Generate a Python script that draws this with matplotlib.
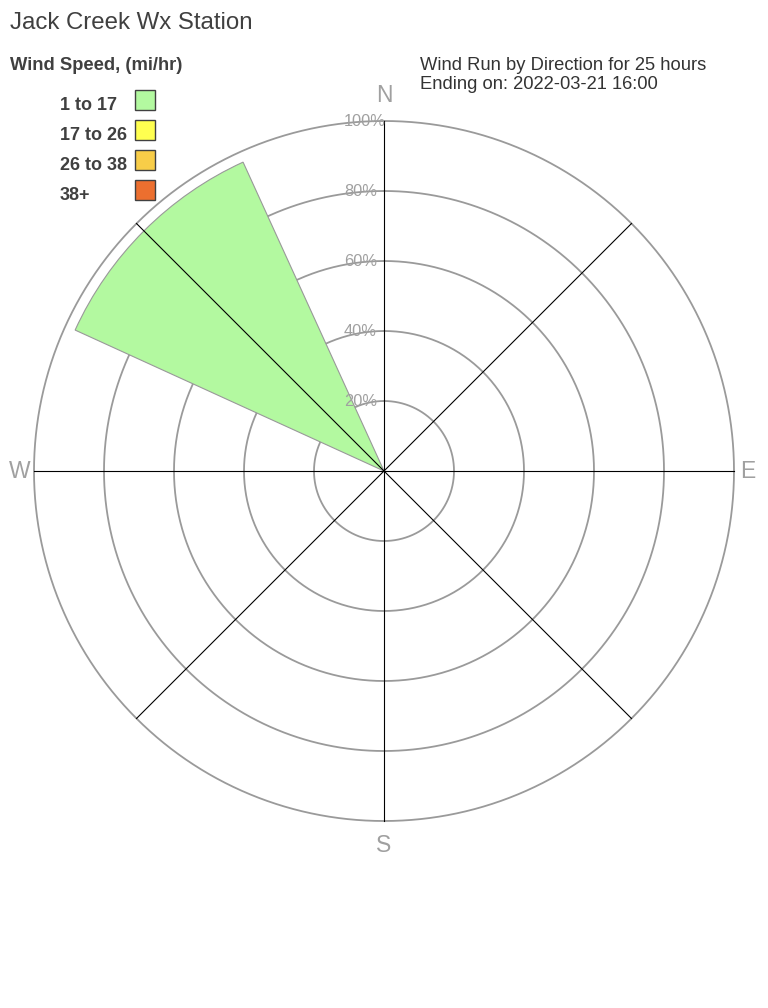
import numpy as np
import matplotlib
matplotlib.use("Agg")
import matplotlib.pyplot as plt

plt.rcParams['font.family'] = ['Liberation Sans', 'DejaVu Sans']

# wind rose data: 8 sectors, percent of wind run per speed class
directions = ["N", "NE", "E", "SE", "S", "SW", "W", "NW"]
dir_angles = [0, 45, 90, 135, 180, 225, 270, 315]
speed_classes = ["1 to 17", "17 to 26", "26 to 38", "38+"]
speed_colors = ["#b3f9a0", "#ffff50", "#f8cd48", "#ec6f2f"]
pct_1_17 = [0, 0, 0, 0, 0, 0, 0, 97]
pct_17_26 = [0, 0, 0, 0, 0, 0, 0, 0]
pct_26_38 = [0, 0, 0, 0, 0, 0, 0, 0]
pct_38p = [0, 0, 0, 0, 0, 0, 0, 0]
ring_ticks = [20, 40, 60, 80, 100]
compass = ["N", "E", "S", "W"]

W, H = 768, 1008
fig = plt.figure(figsize=(W / 100, H / 100), dpi=100)
fig.patch.set_facecolor("white")

cx, cy, R = 384, 471, 350
ax = fig.add_axes([(cx - R) / W, (H - cy - R) / H, 2 * R / W, 2 * R / H],
                  projection="polar")
ax.set_theta_zero_location("N")
ax.set_theta_direction(-1)
ax.set_ylim(0, 100)
ax.set_axis_off()

# rings
th = np.linspace(0, 2 * np.pi, 721)
for r in ring_ticks:
    ax.plot(th, np.full_like(th, r), color="#9a9a9a", lw=1.3, zorder=1,
            clip_on=False)

# stacked wedges
theta = np.deg2rad(dir_angles)
width = np.deg2rad(45) * 0.91
bottom = np.zeros(len(directions))
for vals, col in zip([pct_1_17, pct_17_26, pct_26_38, pct_38p], speed_colors):
    vals = np.array(vals, dtype=float)
    mask = vals > 0
    if mask.any():
        ax.bar(theta[mask], vals[mask], width=width, bottom=bottom[mask],
               color=col, edgecolor="#999999", linewidth=0.8, zorder=2)
    bottom += vals

# spokes
for a in dir_angles:
    ax.plot([np.deg2rad(a)] * 2, [0, 100], color="black", lw=0.8, zorder=3,
            clip_on=False)

# ring labels
for r in ring_ticks:
    ax.annotate(f"{r}%", xy=(0, r), xytext=(-40, 0), textcoords="offset pixels",
                ha="left", va="center", fontsize=11.8, color="#a0a0a0", zorder=4,
                annotation_clip=False)

# compass labels, pushed outside the outer ring
comp_ang = {"N": 0, "E": 90, "S": 180, "W": 270}
comp_off = {"N": (0, 25), "E": (14, 0), "S": (0, -25), "W": (-14, 0)}
for c in compass:
    ax.annotate(c, xy=(np.deg2rad(comp_ang[c]), 100),
                xytext=comp_off[c], textcoords="offset pixels",
                ha="center", va="center", fontsize=16.5, color="#a0a0a0",
                annotation_clip=False)


def ftext(x, y, s, **kw):
    fig.text(x / W, 1 - y / H, s, **kw)


ftext(10, 29, "Jack Creek Wx Station", fontsize=17.3, color="#404040", va="baseline")
ftext(10, 70, "Wind Speed, (mi/hr)", fontsize=13.2, fontweight="bold",
      color="#404040", va="baseline")
ftext(420, 70, "Wind Run by Direction for 25 hours", fontsize=13.2,
      color="#333333", va="baseline")
ftext(420, 89, "Ending on: 2022-03-21 16:00", fontsize=13.2,
      color="#333333", va="baseline")

for i, (lab, col) in enumerate(zip(speed_classes, speed_colors)):
    y0 = 90 + 30 * i
    ftext(60, y0 + 20, lab, fontsize=13, fontweight="bold", color="#404040",
          va="baseline")
    fig.patches.append(plt.Rectangle((135 / W, 1 - (y0 + 20) / H), 20 / W, 20 / H,
                                     transform=fig.transFigure, facecolor=col,
                                     edgecolor="#404040", linewidth=1.0))

fig.savefig("out.png", dpi=100)
